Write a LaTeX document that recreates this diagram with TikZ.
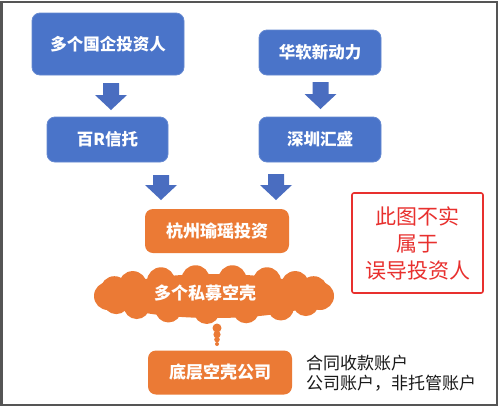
\documentclass[tikz,border=0pt]{standalone}
\usepackage{fontspec}
\setmainfont{Noto Sans CJK SC}
\usetikzlibrary{calc}
\definecolor{boxblue}{HTML}{4A74C9}
\definecolor{arrblue}{HTML}{4A6DC0}
\definecolor{boxorange}{HTML}{EB7A35}
\definecolor{warnred}{HTML}{E8302E}
\definecolor{framegray}{HTML}{555555}
\tikzset{
  bluebox/.style={draw=boxblue!85!white,line width=0.8pt,fill=boxblue,rounded corners=8pt,text=white,font=\fontsize{16.5}{20}\selectfont\bfseries,inner sep=0pt},
  orangebox/.style={fill=boxorange,rounded corners=8pt,text=white,font=\fontsize{17}{20}\selectfont\bfseries,inner sep=0pt,minimum width=144pt,minimum height=44pt},
  warnbox/.style={draw=warnred,line width=1.6pt,rounded corners=2pt,text=warnred,font=\fontsize{21}{27}\selectfont,align=center,inner sep=0pt,minimum width=131pt,minimum height=100pt},
  note/.style={text=black!90,font=\fontsize{17}{20}\selectfont,align=left,anchor=west,inner sep=0pt},
  arrfill/.style={fill=arrblue},
  puff/.style={fill=boxorange}
}
\newcommand\barrow[2]{%
  \fill[arrfill] let \p1=(#1), \p2=(#2) in
    (\x1-8pt,\y1) -- (\x1+8pt,\y1) -- (\x1+8pt,\y2+15pt) -- (\x1+16pt,\y2+15pt)
    -- (\x1,\y2) -- (\x1-16pt,\y2+15pt) -- (\x1-8pt,\y2+15pt) -- cycle;}
\begin{document}
\begin{tikzpicture}[x=1pt,y=-1pt]
\useasboundingbox (0,0) rectangle (501,408);
\fill[white] (0,0) rectangle (501,408);
\draw[framegray,line width=2.6pt] (1.5,2) rectangle (497,405);

\node[bluebox,minimum width=152pt,minimum height=62pt] (b1) at (108,44) {多个国企投资人};
\node[bluebox,minimum width=121pt,minimum height=45pt] (b2) at (107.5,139.5) {百R信托};
\node[bluebox,minimum width=122pt,minimum height=45pt] (b3) at (320,52.5) {华软新动力};
\node[bluebox,minimum width=122pt,minimum height=45pt] (b4) at (320,139.5) {深圳汇盛};

\node[orangebox] (o1) at (217,231) {杭州瑜瑶投资};

% cloud
\coordinate (cc) at (214,296);
\fill[puff] (cc) ellipse (108pt and 22pt);
\foreach \a in {0,20,...,180}
  \fill[puff] ($(cc)+({106*cos(\a)},{-17*sin(\a)})$) circle (14pt);
\foreach \a in {200,222,...,340}
  \fill[puff] ($(cc)+({104*cos(\a)},{-15*sin(\a)})$) circle (13pt);
\node[text=white,font=\fontsize{17}{20}\selectfont\bfseries] (clt) at (205,293) {多个私募空壳};

\node[orangebox] (o2) at (220,372.5) {底层空壳公司};

\coordinate (t1) at (217,328);
\fill[puff] (t1) circle (4.5pt);
\fill[puff] ($(t1)+(0,6.5)$) circle (3.6pt);
\fill[puff] ($(t1)+(0,11.5)$) circle (2.8pt);
\fill[puff] ($(t1)+(0,16)$) circle (2pt);

\coordinate (a1s) at (111,83);  \coordinate (a1e) at (111,110);
\coordinate (a2s) at (320.5,82); \coordinate (a2e) at (320.5,109);
\coordinate (a3s) at (161,175); \coordinate (a3e) at (161,200);
\coordinate (a4s) at (276,174); \coordinate (a4e) at (276,200);
\barrow{a1s}{a1e}
\barrow{a2s}{a2e}
\barrow{a3s}{a3e}
\barrow{a4s}{a4e}

\node[warnbox] (w) at (417.5,243) {此图不实\\属于\\误导投资人};

\node[note] (n1) at (306,363) {合同收款账户};
\node[note] (n2) at (306,383) {公司账户，非托管账户};
\end{tikzpicture}
\end{document}
